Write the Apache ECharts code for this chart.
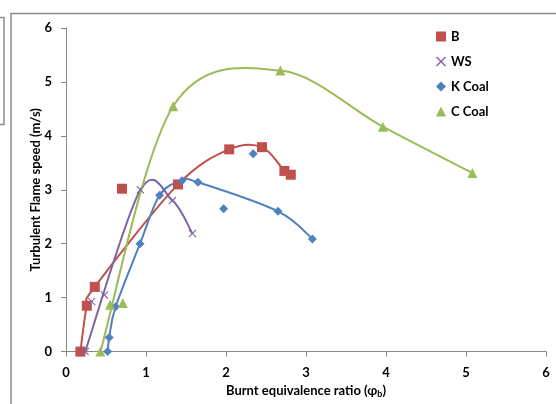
<!DOCTYPE html>
<html>
<head>
<meta charset="utf-8">
<script src="https://cdn.jsdelivr.net/npm/echarts@6/dist/echarts.min.js"></script>
<style>
  html, body { margin: 0; padding: 0; background: #fff; }
  #chart { width: 556px; height: 404px; }
</style>
</head>
<body>
<div id="chart"></div>
<script>
// Turbulent flame speed vs burnt equivalence ratio
const seriesNames = ['B', 'WS', 'K Coal', 'C Coal'];
const seriesColors = ['#C0504D', '#8064A2', '#4F81BD', '#9BBB59'];

const bX = [0.18, 0.26, 0.36, 0.70, 1.40, 2.04, 2.45, 2.73, 2.81];
const bY = [0.00, 0.85, 1.20, 3.02, 3.10, 3.75, 3.79, 3.35, 3.28];
const bTrend = [0, 1, 2, 4, 5, 6, 7, 8];

const wsX = [0.24, 0.32, 0.48, 0.93, 1.33, 1.58];
const wsY = [0.00, 0.93, 1.05, 3.00, 2.80, 2.19];
const wsTrend = [0, 3, 4, 5];

const kX = [0.52, 0.54, 0.62, 0.925, 1.17, 1.45, 1.65, 1.97, 2.34, 2.65, 3.08];
const kY = [0.00, 0.26, 0.83, 2.00, 2.90, 3.17, 3.14, 2.65, 3.67, 2.60, 2.09];
const kTrend = [0, 1, 2, 3, 4, 5, 6, 9, 10];

const cX = [0.43, 0.55, 0.71, 1.34, 2.68, 3.96, 5.08];
const cY = [0.00, 0.87, 0.90, 4.55, 5.21, 4.17, 3.31];
const cTrend = [0, 3, 4, 5, 6];

const xTicks = [0, 1, 2, 3, 4, 5, 6];
const yTicks = [0, 1, 2, 3, 4, 5, 6];

const crossPath = 'path://M0,1L1,0L5,4L9,0L10,1L6,5L10,9L9,10L5,6L1,10L0,9L4,5Z';
const symbols = ['rect', crossPath, 'diamond', 'triangle'];
const symbolSizes = [10, 8, 9, 10];

const xsAll = [bX, wsX, kX, cX];
const ysAll = [bY, wsY, kY, cY];
const trends = [bTrend, wsTrend, kTrend, cTrend];

const font = 'Lato, "Open Sans", "Liberation Sans", sans-serif';
const axisGray = '#868686';

// Smoothed curve through the given pixel points (Catmull-Rom style cubic Bezier)
function smoothPath(p) {
  let d = 'M' + p[0][0] + ',' + p[0][1];
  for (let i = 0; i < p.length - 1; i++) {
    const p0 = p[Math.max(i - 1, 0)];
    const p1 = p[i];
    const p2 = p[i + 1];
    const p3 = p[Math.min(i + 2, p.length - 1)];
    const c1x = p1[0] + (p2[0] - p0[0]) / 6;
    const c1y = p1[1] + (p2[1] - p0[1]) / 6;
    const c2x = p2[0] - (p3[0] - p1[0]) / 6;
    const c2y = p2[1] - (p3[1] - p1[1]) / 6;
    d += 'C' + c1x + ',' + c1y + ',' + c2x + ',' + c2y + ',' + p2[0] + ',' + p2[1];
  }
  return d;
}

const series = [];
// smoothed connecting curves, drawn beneath the markers
seriesNames.forEach((name, i) => {
  const pts = trends[i].map(k => [xsAll[i][k], ysAll[i][k]]);
  series.push({
    name: name + ' curve',
    type: 'custom',
    coordinateSystem: 'cartesian2d',
    silent: true,
    z: 2,
    clip: false,
    data: pts,
    encode: { x: 0, y: 1 },
    renderItem: function (params, api) {
      if (params.dataIndex !== 0) return null;
      const px = pts.map(v => api.coord(v));
      return {
        type: 'path',
        shape: { pathData: smoothPath(px) },
        style: { fill: 'none', stroke: seriesColors[i], lineWidth: 2, lineJoin: 'round' }
      };
    }
  });
});
// measured points
seriesNames.forEach((name, i) => {
  series.push({
    name: name,
    type: 'scatter',
    symbol: symbols[i],
    symbolSize: symbolSizes[i],
    z: 3,
    itemStyle: { color: seriesColors[i], opacity: 1 },
    data: xsAll[i].map((x, k) => [x, ysAll[i][k]])
  });
});

const chart = echarts.init(document.getElementById('chart'), null, { renderer: 'canvas' });
chart.setOption({
  animation: false,
  backgroundColor: '#fff',
  textStyle: { fontFamily: font },
  grid: { left: 66, right: 10, top: 28, bottom: 50, containLabel: false },
  legend: {
    data: seriesNames,
    orient: 'vertical',
    left: 431,
    top: 25,
    itemGap: 12,
    itemWidth: 10,
    itemHeight: 10,
    textStyle: { fontFamily: font, fontWeight: 'bold', fontSize: 13, color: '#000' }
  },
  xAxis: {
    type: 'value',
    min: xTicks[0],
    max: xTicks[xTicks.length - 1],
    interval: 1,
    name: '{a|Burnt equivalence ratio (φ}{s|b}{a|)}',
    nameLocation: 'middle',
    nameGap: 31,
    nameTextStyle: {
      rich: {
        a: { fontFamily: font, fontWeight: 'bold', fontSize: 13, color: '#000' },
        s: { fontFamily: font, fontWeight: 'bold', fontSize: 9, color: '#000', verticalAlign: 'bottom', padding: [7, 0, 0, 0] }
      }
    },
    axisLine: { show: true, lineStyle: { color: axisGray, width: 1 } },
    axisTick: { show: true, inside: false, length: 5, lineStyle: { color: axisGray } },
    axisLabel: { margin: 15, fontFamily: font, fontWeight: 'bold', fontSize: 13, color: '#000' },
    splitLine: { show: false }
  },
  yAxis: {
    type: 'value',
    min: yTicks[0],
    max: yTicks[yTicks.length - 1],
    interval: 1,
    name: 'Turbulent Flame speed (m/s)',
    nameLocation: 'middle',
    nameMoveOverlap: false,
    nameGap: 24,
    nameTextStyle: { fontFamily: font, fontWeight: 'bold', fontSize: 13, color: '#000' },
    axisLine: { show: true, lineStyle: { color: axisGray, width: 1 } },
    axisTick: { show: true, inside: false, length: 5, lineStyle: { color: axisGray } },
    axisLabel: { margin: 14, fontFamily: font, fontWeight: 'bold', fontSize: 13, color: '#000' },
    splitLine: { show: false }
  },
  graphic: [
    {
      type: 'rect',
      silent: true,
      shape: { x: 11, y: 13.5, width: 700, height: 600 },
      style: { fill: 'none', stroke: '#8c8c8c', lineWidth: 1.5 }
    },
    {
      type: 'rect',
      silent: true,
      shape: { x: -20, y: 17.5, width: 24, height: 107 },
      style: { fill: 'none', stroke: '#8c8c8c', lineWidth: 1.5 }
    }
  ],
  series: series
});
</script>
</body>
</html>
